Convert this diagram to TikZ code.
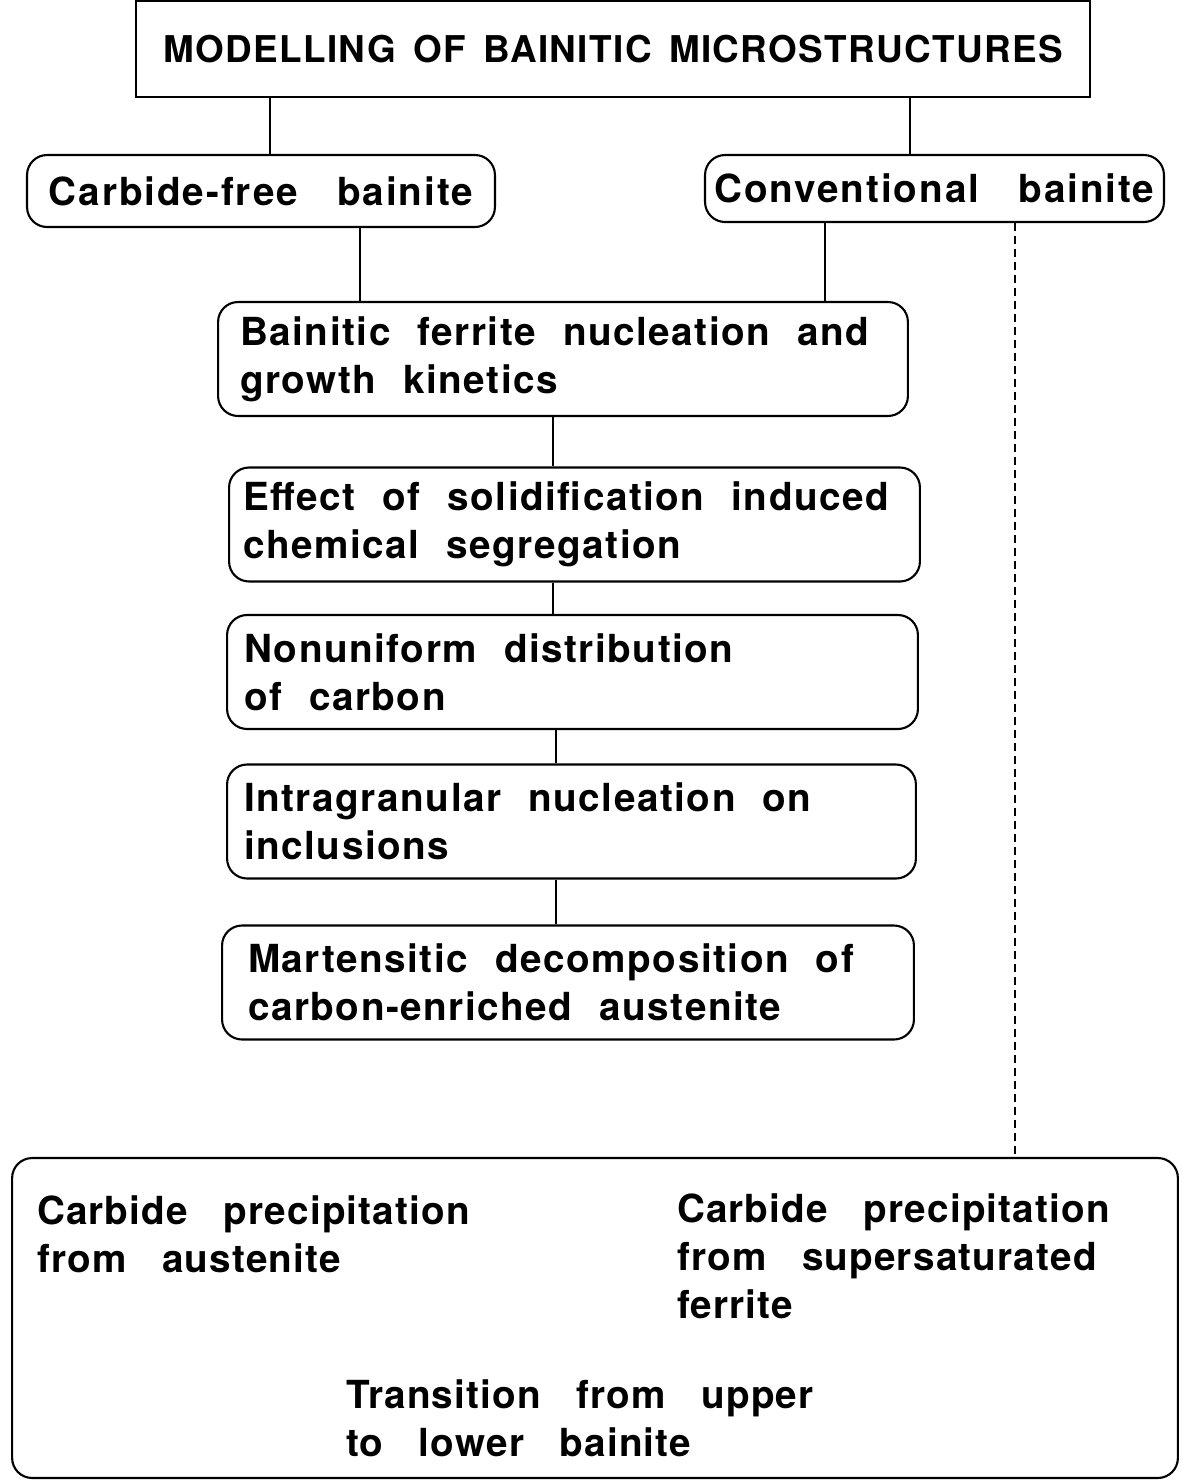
\documentclass[tikz,border=0pt]{standalone}
\usepackage{fontspec}
\newfontfamily\headfont{TeX Gyre Heros}[LetterSpace=3.7,WordSpace=1.5]
\newfontfamily\branchfont{TeX Gyre Heros}[LetterSpace=5,WordSpace=3.1]
\newfontfamily\boxfont{TeX Gyre Heros}[LetterSpace=4,WordSpace=2.2]
\newfontfamily\notefont{TeX Gyre Heros}[LetterSpace=3,WordSpace=3]
\usepackage{tikz}

\begin{document}
\begin{tikzpicture}[x=0.02cm, y=-0.02cm, line width=1.2pt,
  txt/.style={font=\boxfont\bfseries\fontsize{22}{27.3}\selectfont},
  note/.style={font=\notefont\bfseries\fontsize{22}{27.3}\selectfont,
               align=left, anchor=north west, inner sep=0pt},
  branch/.style={draw, rounded corners=0.4cm, inner ysep=0pt, inner xsep=2pt,
                 font=\branchfont\bfseries\fontsize{22}{27.3}\selectfont},
  twoline/.style={txt, draw, rounded corners=0.4cm, inner ysep=0pt,
                  align=flush left, minimum height=2.28cm}]
  \useasboundingbox (0,0) rectangle (1181,1481);
  % top of the tree
  \node[draw, minimum width=19.08cm, minimum height=1.92cm,
        font=\headfont\bfseries\fontsize{21}{26}\selectfont] (title) at (613,49)
        {MODELLING OF BAINITIC MICROSTRUCTURES};
  \node[branch, minimum width=9.36cm, minimum height=1.44cm] (cfree) at (261,191)
        {Carbide-free bainite};
  \node[branch, minimum width=9.18cm, minimum height=1.34cm] (conv) at (934.5,188.5)
        {Conventional bainite};
  % chain of boxes
  \node[twoline, inner xsep=0.44cm, text width=12.92cm] (kin) at (563,359)
        {Bainitic ferrite nucleation and\\growth kinetics};
  \node[twoline, inner xsep=0.28cm, text width=13.26cm] (seg) at (574.5,524.5)
        {Effect of solidification induced\\chemical segregation};
  \node[twoline, inner xsep=0.34cm, text width=13.14cm] (carb) at (572.5,672)
        {Nonuniform distribution\\of carbon};
  \node[twoline, inner xsep=0.34cm, text width=13.10cm] (incl) at (571.5,821.5)
        {Intragranular nucleation on\\inclusions};
  \node[twoline, inner xsep=0.52cm, text width=12.80cm] (mart) at (568,982.5)
        {Martensitic decomposition of\\carbon-enriched austenite};
  % precipitation box
  \node[draw, rounded corners=0.4cm, minimum width=23.32cm, minimum height=6.4cm] (prec) at (595,1318) {};
  \node[note] (fromaus) at (36,1195) {Carbide precipitation\\from austenite};
  \node[note] (fromfer) at (676,1193) {Carbide precipitation\\from supersaturated\\ferrite};
  \node[note] (trans) at (345,1379) {Transition from upper\\to lower bainite};
  % connectors
  \foreach \a/\b/\x in {title/cfree/270, title/conv/910, cfree/kin/360, conv/kin/825,
                        kin/seg/553, seg/carb/553, carb/incl/556, incl/mart/556}{
    \coordinate (here) at (\x,0);
    \draw (\a.south -| here) -- (\b.north -| here);
  }
  \coordinate (dash) at (1015,0);
  \draw[line width=1pt, dash pattern=on 0.16cm off 0.1cm] (conv.south -| dash) -- (prec.north -| dash);
\end{tikzpicture}
\end{document}
